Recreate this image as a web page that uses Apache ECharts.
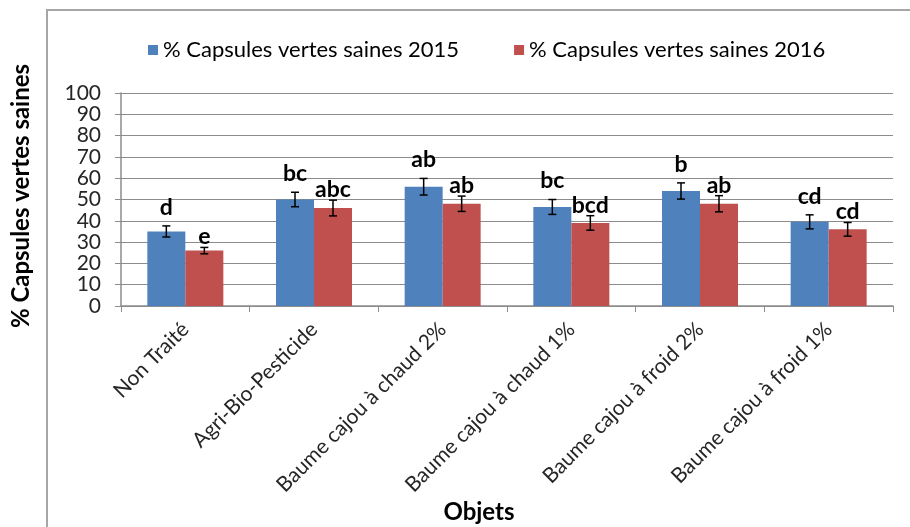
<!DOCTYPE html>
<html>
<head>
<meta charset="utf-8">
<script src="https://cdn.jsdelivr.net/npm/echarts@6/dist/echarts.min.js"></script>
<style>
html, body { margin: 0; padding: 0; background: #fff; }
#chart { width: 910px; height: 527px; }
</style>
</head>
<body>
<div id="chart"></div>
<script>
// donnees
var objets = ['Non Traité', 'Agri-Bio-Pesticide', 'Baume cajou à chaud 2%', 'Baume cajou à chaud 1%', 'Baume cajou à froid 2%', 'Baume cajou à froid 1%'];
var sain2015 = [35, 50, 56, 46.5, 54, 39.5];
var sain2016 = [26, 46, 48, 39, 48, 36];
var err2015 = [2.6, 3.4, 3.9, 3.5, 3.8, 3.3];
var err2016 = [1.5, 3.7, 3.6, 3.4, 3.8, 3.2];
var lettres2015 = ['d', 'bc', 'ab', 'bc', 'b', 'cd'];
var lettres2016 = ['e', 'abc', 'ab', 'bcd', 'ab', 'cd'];
var yTicks = [0, 10, 20, 30, 40, 50, 60, 70, 80, 90, 100];

var FONT = 'Lato, "Open Sans", sans-serif';
var chart = echarts.init(document.getElementById('chart'));

// barres d'erreur + lettres de groupe
var errorItem = function(values, errs, letters, dx, gap){
    return function(params, api){
        var i = params.dataIndex;
        var v = values[i], e = errs[i];
        var top = api.coord([i, v + e]);
        var bot = api.coord([i, v - e]);
        var x = top[0] + dx;
        var cap = 4;
        return {
            type: 'group',
            children: [
                {type: 'line', shape: {x1: x, y1: top[1], x2: x, y2: bot[1]}, style: {stroke: '#000', lineWidth: 1.5}},
                {type: 'line', shape: {x1: x - cap, y1: top[1], x2: x + cap, y2: top[1]}, style: {stroke: '#000', lineWidth: 1.5}},
                {type: 'line', shape: {x1: x - cap, y1: bot[1], x2: x + cap, y2: bot[1]}, style: {stroke: '#000', lineWidth: 1.5}},
                {type: 'text', style: {text: letters[i], x: x, y: top[1] - gap, textAlign: 'center', textVerticalAlign: 'bottom',
                    font: 'bold 23px ' + FONT, fill: '#000'}}
            ]
        };
    };
};

var option = {
    animation: false,
    backgroundColor: '#fff',
    graphic: [
        {type: 'rect', shape: {x: 47, y: 10, width: 900, height: 600}, style: {fill: 'none', stroke: '#a6a6a6', lineWidth: 2}, silent: true},
        {type: 'text', x: 21, y: 196, rotation: Math.PI / 2,
            style: {text: '% Capsules vertes saines', x: 0, y: 0, textAlign: 'center', textVerticalAlign: 'middle',
                font: 'bold 24px ' + FONT, fill: '#000'}},
        {type: 'text', x: 479, y: 512,
            style: {text: 'Objets', x: 0, y: 0, textAlign: 'center', textVerticalAlign: 'middle',
                font: 'bold 24px ' + FONT, fill: '#000'}}
    ],
    legend: {
        top: 34,
        left: 143,
        itemWidth: 10,
        itemHeight: 10,
        itemGap: 55,
        icon: 'rect',
        textStyle: {fontFamily: FONT, fontSize: 22, color: '#000'},
        data: ['% Capsules vertes saines 2015', '% Capsules vertes saines 2016']
    },
    grid: {left: 121, right: 17, top: 93, bottom: 221},
    xAxis: {
        type: 'category',
        data: objets,
        axisLine: {lineStyle: {color: '#8c8c8c', width: 1.5}},
        axisTick: {show: true, length: 6, lineStyle: {color: '#8c8c8c'}},
        axisLabel: {rotate: 45, interval: 0, fontFamily: FONT, fontSize: 21, color: '#262626', margin: 20}
    },
    yAxis: {
        type: 'value',
        min: 0,
        max: 100,
        interval: 10,
        axisLine: {show: true, lineStyle: {color: '#8c8c8c', width: 1.5}},
        axisTick: {show: true, inside: false, length: 6, lineStyle: {color: '#8c8c8c'}},
        splitLine: {lineStyle: {color: '#8c8c8c', width: 1}},
        axisLabel: {fontFamily: FONT, fontSize: 21, lineHeight: 18, color: '#262626', margin: 20,
            showMinLabel: true, showMaxLabel: true, hideOverlap: false,
            formatter: function(v){ return yTicks.indexOf(v) >= 0 ? String(v) : ''; }}
    },
    series: [
        {name: '% Capsules vertes saines 2015', type: 'bar', data: sain2015, barWidth: 38, barGap: '0%',
            itemStyle: {color: '#4f81bd'}},
        {name: '% Capsules vertes saines 2016', type: 'bar', data: sain2016, barWidth: 38, barGap: '0%',
            itemStyle: {color: '#c0504d'}},
        {type: 'custom', data: sain2015, renderItem: errorItem(sain2015, err2015, lettres2015, -19, 7), z: 5},
        {type: 'custom', data: sain2016, renderItem: errorItem(sain2016, err2016, lettres2016, 19, -1), z: 5}
    ]
};

chart.setOption(option);
</script>
</body>
</html>
